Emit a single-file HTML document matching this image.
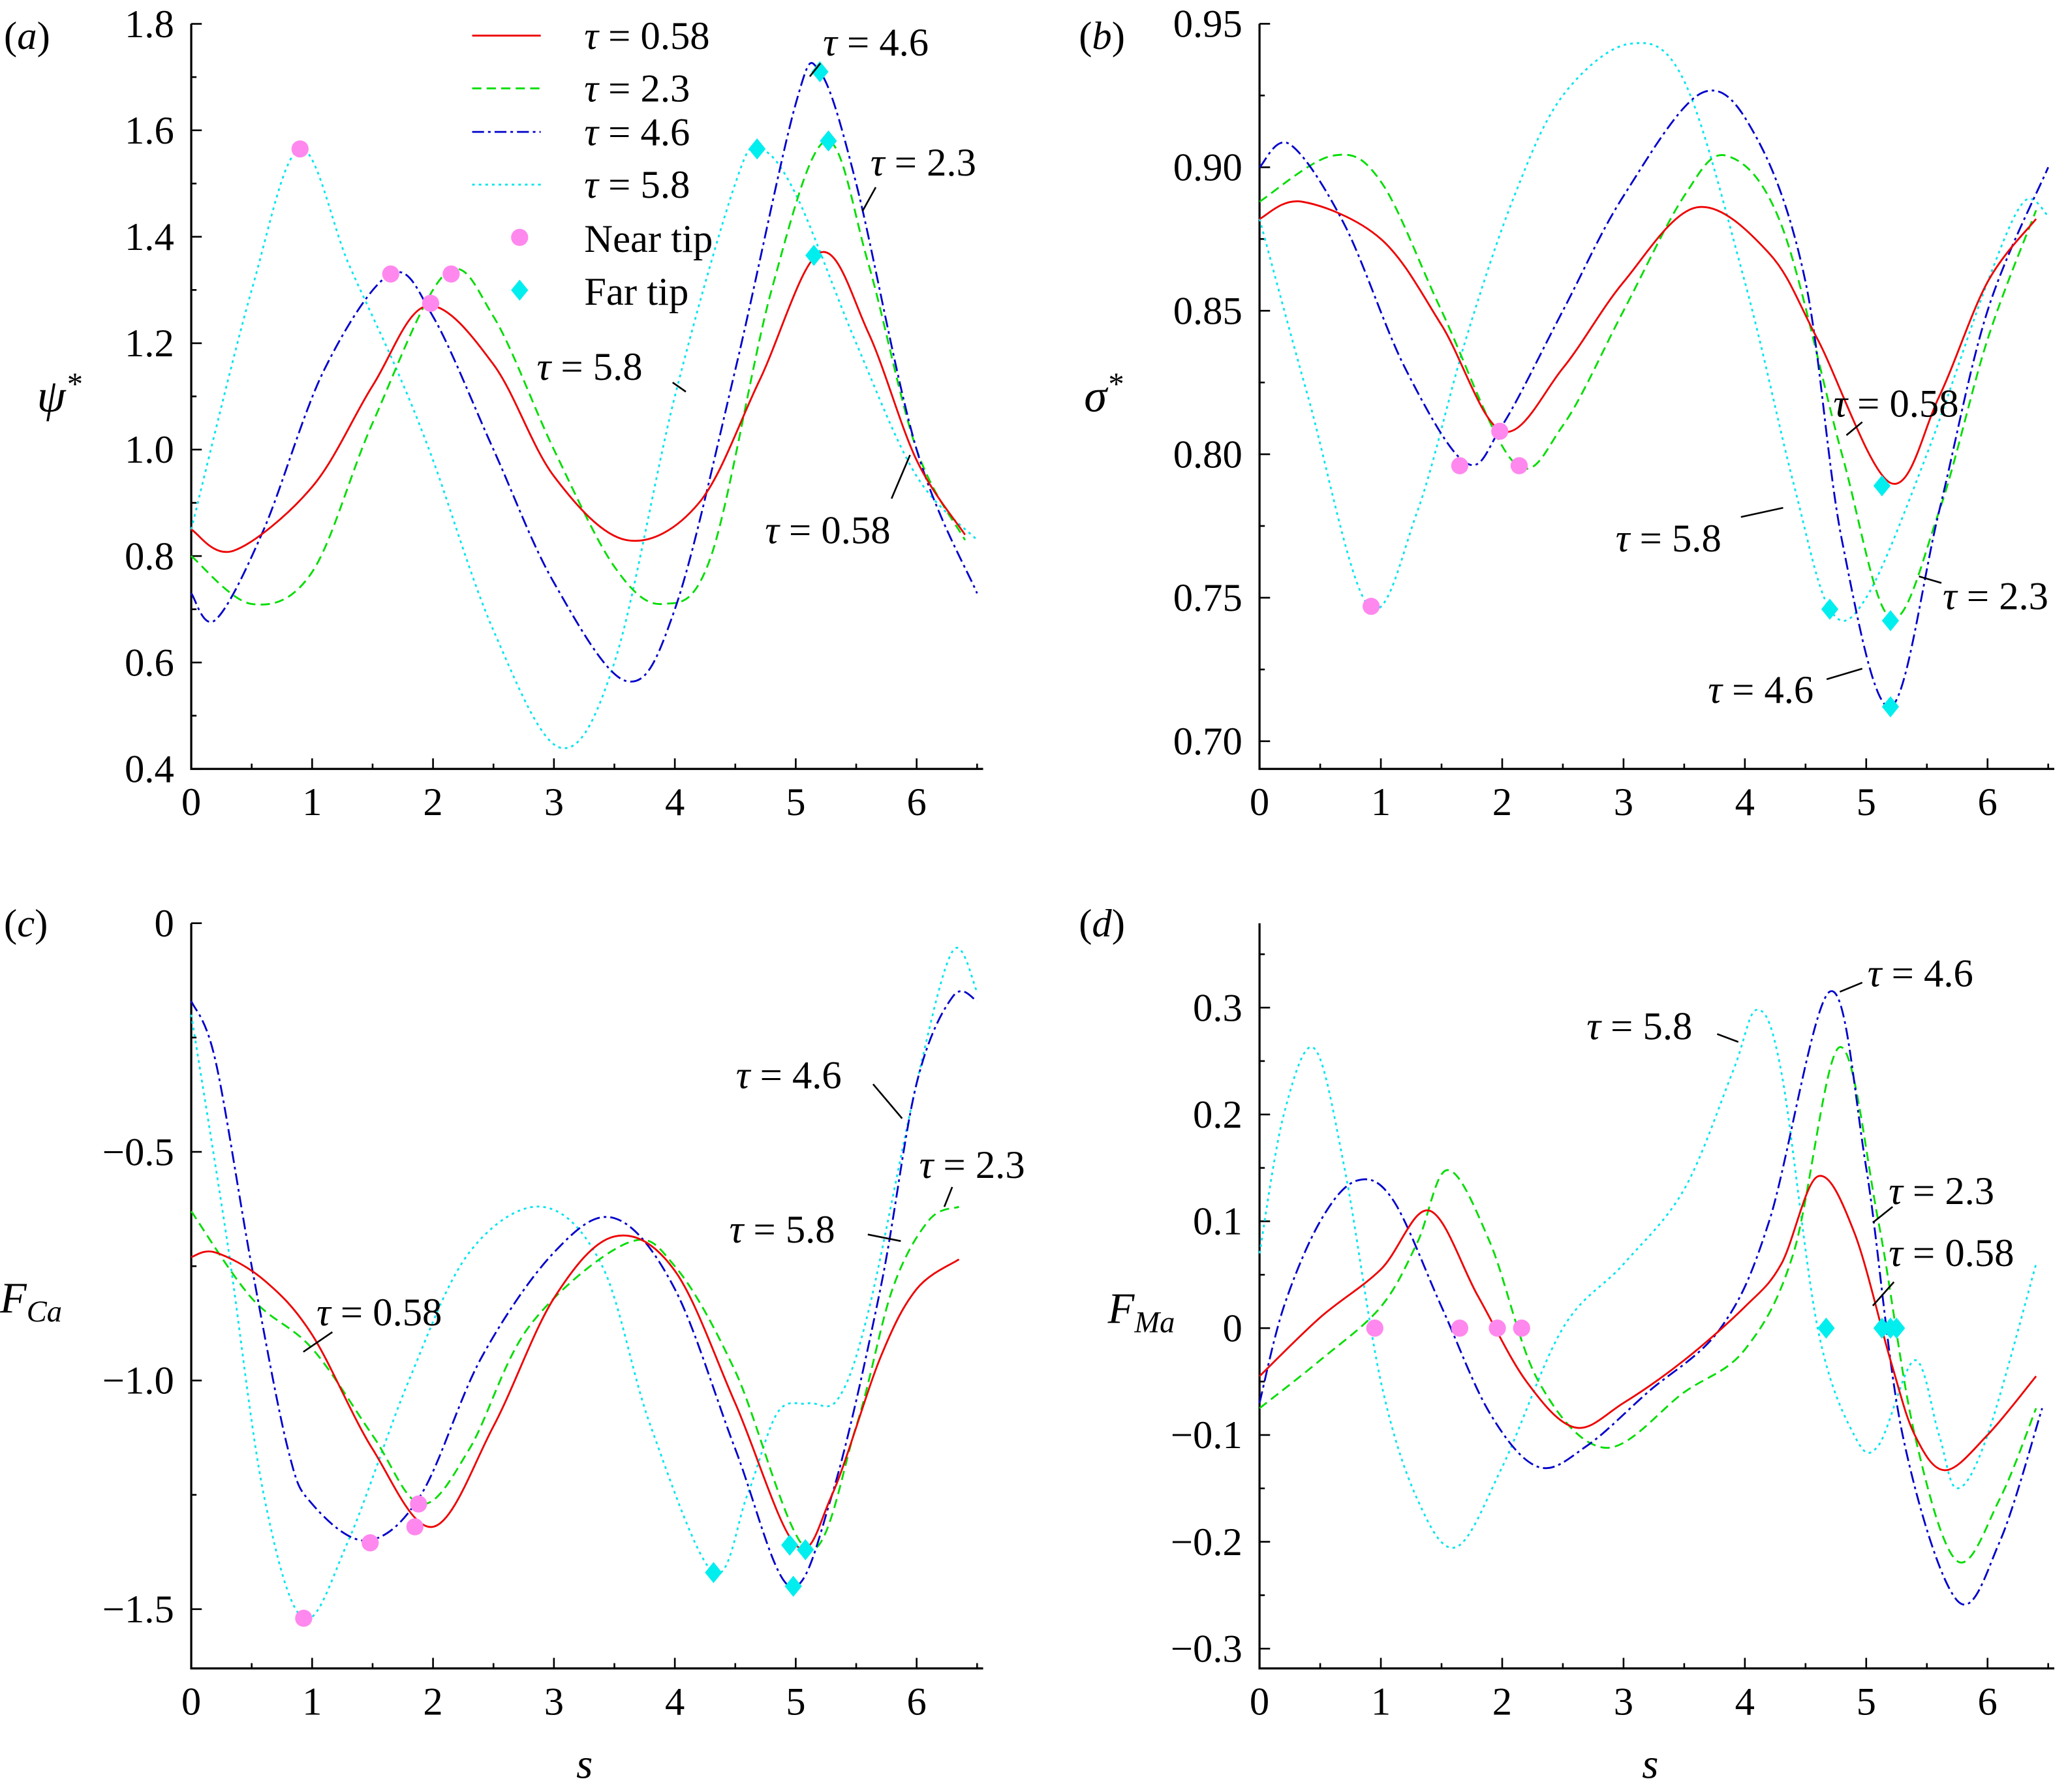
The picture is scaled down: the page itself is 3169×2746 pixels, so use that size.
<!DOCTYPE html>
<html><head><meta charset="utf-8"><style>
html,body{margin:0;padding:0;background:#fff}
svg{display:block}
text{font-family:"Liberation Serif","Times New Roman",serif;fill:#000}
</style></head><body>
<svg id="fig" width="3169" height="2746" viewBox="0 0 1568 1358.7" preserveAspectRatio="none" xmlns="http://www.w3.org/2000/svg"></svg>
<script>
// ---- data ----
const aRedS=[0,0.35,1,1.5,1.95,2.5,3,3.6,4.2,4.7,5.2,5.6,6,6.4];
const aRedV=[0.85,0.81,0.93,1.12,1.27,1.16,0.95,0.83,0.9,1.13,1.37,1.22,0.98,0.84];
const aGreenS=[0,0.5,1,1.5,2.1,2.5,3,3.5,3.9,4.3,4.8,5.25,5.6,6,6.4];
const aGreenV=[0.80,0.71,0.77,1.05,1.33,1.25,1.0,0.78,0.71,0.8,1.3,1.58,1.35,1.0,0.83];
const aBlueS=[0,0.2,0.6,1.1,1.65,2,2.5,3,3.6,4,4.5,5,5.2,5.5,6,6.5];
const aBlueV=[0.73,0.68,0.85,1.15,1.33,1.25,1.0,0.75,0.565,0.7,1.15,1.65,1.71,1.5,1.0,0.73];
const aCyanS=[0,0.5,0.9,1.3,1.7,2,2.5,3.05,3.5,4,4.5,4.7,5,5.5,6,6.5];
const aCyanV=[0.85,1.3,1.565,1.35,1.15,0.98,0.66,0.44,0.6,1.1,1.5,1.565,1.48,1.2,0.95,0.83];
const aNearS=[0.9,1.65,1.98,2.15], aNearV=[1.565,1.33,1.275,1.33];
const aFarS=[4.68,5.15,5.2,5.27], aFarV=[1.565,1.365,1.71,1.58];

const bRedS=[0,0.35,1,1.5,2,2.5,3,3.6,4.2,4.6,5.2,5.6,6,6.4];
const bRedV=[0.882,0.888,0.875,0.845,0.808,0.83,0.86,0.886,0.87,0.84,0.79,0.82,0.86,0.882];
const bGreenS=[0,0.6,1,1.5,2.1,2.5,3,3.5,3.85,4.3,4.8,5.2,5.6,6,6.4];
const bGreenV=[0.888,0.904,0.895,0.85,0.797,0.81,0.85,0.89,0.904,0.88,0.8,0.743,0.78,0.84,0.885];
const bBlueS=[0,0.25,0.7,1.2,1.7,2,2.5,3,3.65,4.1,4.5,4.8,5.2,5.6,6,6.5];
const bBlueV=[0.90,0.908,0.88,0.83,0.797,0.81,0.85,0.89,0.926,0.91,0.86,0.77,0.712,0.78,0.85,0.90];
const bCyanS=[0,0.4,0.9,1.3,1.7,2.1,2.5,3.05,3.5,4,4.4,4.7,5,5.5,6,6.3,6.5];
const bCyanV=[0.882,0.82,0.747,0.78,0.84,0.89,0.925,0.943,0.93,0.86,0.79,0.746,0.75,0.8,0.86,0.888,0.883];
const bNearS=[0.92,1.65,1.98,2.14], bNearV=[0.747,0.796,0.808,0.796];
const bFarS=[4.7,5.13,5.2,5.2], bFarV=[0.746,0.789,0.742,0.712];

const cRedS=[0,0.2,0.6,1,1.5,2,2.5,3,3.5,4,4.5,5,5.3,5.7,6,6.35];
const cRedV=[-0.73,-0.72,-0.78,-0.9,-1.15,-1.32,-1.1,-0.82,-0.685,-0.76,-1.05,-1.36,-1.25,-0.95,-0.8,-0.735];
const cGreenS=[0,0.5,1,1.5,1.9,2.3,2.8,3.6,4,4.5,5.1,5.5,5.8,6.1,6.35];
const cGreenV=[-0.63,-0.82,-0.93,-1.12,-1.27,-1.15,-0.88,-0.7,-0.75,-0.98,-1.37,-1.1,-0.8,-0.65,-0.62];
const cBlueS=[0,0.2,0.5,0.8,1,1.45,1.9,2.4,3,3.5,4,4.5,4.95,5.3,5.7,6,6.3,6.5];
const cBlueV=[-0.17,-0.3,-0.75,-1.15,-1.27,-1.35,-1.25,-0.95,-0.72,-0.645,-0.8,-1.15,-1.45,-1.25,-0.8,-0.35,-0.16,-0.17];
const cCyanS=[0,0.3,0.6,0.93,1.3,1.8,2.3,2.9,3.4,3.8,4.32,4.6,4.85,5.1,5.35,5.6,6,6.3,6.5];
const cCyanV=[-0.2,-0.7,-1.25,-1.52,-1.35,-1.0,-0.72,-0.62,-0.75,-1.1,-1.42,-1.25,-1.07,-1.05,-1.04,-0.85,-0.35,-0.06,-0.15];
const cNearS=[0.93,1.48,1.85,1.88], cNearV=[-1.52,-1.355,-1.32,-1.27];
const cFarS=[4.32,4.95,4.98,5.08], cFarV=[-1.42,-1.36,-1.45,-1.37];

const dRedS=[0,0.5,1,1.4,1.8,2.2,2.6,3,3.5,4,4.3,4.6,4.9,5.2,5.4,5.65,6,6.4];
const dRedV=[-0.045,0.01,0.055,0.11,0.03,-0.05,-0.093,-0.07,-0.03,0.02,0.06,0.142,0.09,-0.03,-0.1,-0.133,-0.1,-0.045];
const dGreenS=[0,0.5,1,1.3,1.55,1.9,2.3,2.85,3.5,4,4.4,4.78,5.1,5.4,5.75,6.1,6.4];
const dGreenV=[-0.075,-0.03,0.02,0.08,0.148,0.08,-0.05,-0.112,-0.06,-0.02,0.07,0.263,0.1,-0.1,-0.218,-0.16,-0.075];
const dBlueS=[0,0.2,0.5,0.8,1.1,1.5,1.9,2.3,2.7,3.2,3.8,4.2,4.7,5,5.3,5.75,6.1,6.45];
const dBlueV=[-0.07,0.02,0.1,0.138,0.12,0.02,-0.08,-0.13,-0.11,-0.06,0.0,0.1,0.315,0.15,-0.1,-0.255,-0.2,-0.075];
const dCyanS=[0,0.2,0.45,0.7,1,1.3,1.62,2,2.5,3,3.5,3.9,4.1,4.3,4.6,4.9,5.1,5.4,5.6,5.75,6,6.4];
const dCyanV=[0.07,0.2,0.262,0.15,-0.05,-0.16,-0.205,-0.13,0.0,0.06,0.13,0.24,0.298,0.24,0.0,-0.1,-0.11,-0.03,-0.1,-0.15,-0.1,0.06];
const dNearS=[0.95,1.65,1.96,2.16], dNearV=[0,0,0,0];
const dFarS=[4.67,5.13,5.2,5.25], dFarV=[0,0,0,0];

const xTicks=[0,1,2,3,4,5,6];
const aTicks=[0.4,0.6,0.8,1.0,1.2,1.4,1.6,1.8];
const bTicks=[0.70,0.75,0.80,0.85,0.90,0.95];
const cTicks=[-1.5,-1.0,-0.5,0];
const dTicks=[-0.3,-0.2,-0.1,0,0.1,0.2,0.3];

// ---- drawing ----
const NS="http://www.w3.org/2000/svg";
const svg=document.getElementById('fig');
function mk(tag,attrs,parent){const e=document.createElementNS(NS,tag);for(const k in attrs)e.setAttribute(k,attrs[k]);(parent||svg).appendChild(e);return e;}
const COL={red:'#ee0000',green:'#00dd00',blue:'#0000cc',cyan:'#00e5ee'};
const DASH={red:'',green:'7,4',blue:'9,3,2,3',cyan:'2,3'};
function smooth(pts){let d='M'+pts[0][0]+','+pts[0][1];
 for(let i=0;i<pts.length-1;i++){const p0=pts[Math.max(0,i-1)],p1=pts[i],p2=pts[i+1],p3=pts[Math.min(pts.length-1,i+2)];
  d+=' C'+(p1[0]+(p2[0]-p0[0])/6)+','+(p1[1]+(p2[1]-p0[1])/6)+' '+(p2[0]-(p3[0]-p1[0])/6)+','+(p2[1]-(p3[1]-p1[1])/6)+' '+p2[0]+','+p2[1];}
 return d;}
function fmt(v,dec){if(Math.abs(v)<1e-9)return '0';let s=Math.abs(v).toFixed(dec);return (v<0?'\u2212':'')+s;}

function panel(cfg){
 const g=mk('g',{});
 
 
 const X=s=>cfg.x0+s*cfg.sx;
 const Y=v=>cfg.yb-(v-cfg.vmin)*cfg.sy;
 const xr=X(6.55);
 const ax=mk('path',{d:`M${cfg.x0},${cfg.yTop} L${cfg.x0},${cfg.yBot} L${xr},${cfg.yBot}`,fill:'none',stroke:'#000','stroke-width':1.6},g);
 
 for(let k=0;k<=13;k++){const s=k*0.5,x=X(s),L=(k%2==0)?8:4;
  mk('line',{x1:x,x2:x,y1:cfg.yBot,y2:cfg.yBot-L,stroke:'#000','stroke-width':1.3},g);}
 xTicks.forEach(s=>{const t=mk('text',{x:X(s),y:cfg.yBot+35,'font-size':30,'text-anchor':'middle'},g);t.textContent=s;
  });
 const tk=cfg.ticks;const step=tk[1]-tk[0];
 for(let i=0;i<tk.length;i++){const y=Y(tk[i]);
  mk('line',{x1:cfg.x0,x2:cfg.x0+8,y1:y,y2:y,stroke:'#000','stroke-width':1.3},g);
  const m=tk[i]+step/2,ym=Y(m);if(ym>cfg.yTop-1&&ym<cfg.yBot)mk('line',{x1:cfg.x0,x2:cfg.x0+4,y1:ym,y2:ym,stroke:'#000','stroke-width':1.3},g);
  const t=mk('text',{x:cfg.x0-13,y:y+10,'font-size':30,'text-anchor':'end'},g);t.textContent=fmt(tk[i],cfg.dec);
  }
 const ylm=Y(tk[0]-step/2);if(ylm<cfg.yBot)mk('line',{x1:cfg.x0,x2:cfg.x0+4,y1:ylm,y2:ylm,stroke:'#000','stroke-width':1.3},g);
 ['cyan','green','blue','red'].forEach(c=>{const S=cfg.series[c][0],V=cfg.series[c][1];
  const pts=S.map((s,i)=>[X(s),Y(V[i])]);
  const p=mk('path',{d:smooth(pts),fill:'none',stroke:COL[c],'stroke-width':1.4,'stroke-dasharray':DASH[c]},g);
  });
 cfg.near[0].forEach((s,i)=>{const e=mk('circle',{cx:X(s),cy:Y(cfg.near[1][i]),r:6.5,fill:'#ff88ee'},g);
  });
 cfg.far[0].forEach((s,i)=>{const x=X(s),y=Y(cfg.far[1][i]);
  const e=mk('polygon',{points:`${x},${y-8} ${x+6.5},${y} ${x},${y+8} ${x-6.5},${y}`,fill:'#00eeee'},g);
  });
 return g;
}
panel({id:'a',x0:145,sx:91.67,yb:583,vmin:0.4,sy:403.5,yTop:18,yBot:583,ticks:aTicks,dec:1,
 series:{red:[aRedS,aRedV],green:[aGreenS,aGreenV],blue:[aBlueS,aBlueV],cyan:[aCyanS,aCyanV]},near:[aNearS,aNearV],far:[aFarS,aFarV]});
panel({id:'b',x0:955,sx:92,yb:562,vmin:0.70,sy:2176,yTop:18,yBot:583,ticks:bTicks,dec:2,
 series:{red:[bRedS,bRedV],green:[bGreenS,bGreenV],blue:[bBlueS,bBlueV],cyan:[bCyanS,bCyanV]},near:[bNearS,bNearV],far:[bFarS,bFarV]});
panel({id:'c',x0:145,sx:91.67,yb:700,vmin:0,sy:346.7,yTop:700,yBot:1265,ticks:cTicks,dec:1,
 series:{red:[cRedS,cRedV],green:[cGreenS,cGreenV],blue:[cBlueS,cBlueV],cyan:[cCyanS,cCyanV]},near:[cNearS,cNearV],far:[cFarS,cFarV]});
panel({id:'d',x0:955,sx:92,yb:1007,vmin:0,sy:810,yTop:700,yBot:1265,ticks:dTicks,dec:1,
 series:{red:[dRedS,dRedV],green:[dGreenS,dGreenV],blue:[dBlueS,dBlueV],cyan:[dCyanS,dCyanV]},near:[dNearS,dNearV],far:[dFarS,dFarV]});

// texts
function txt(x,y,s,size,name,italic){const t=mk('text',{x:x,y:y,'font-size':size||30});if(italic)t.setAttribute('font-style','italic');t.innerHTML=s;
 return t;}
function ann(x,y,label,lx1,ly1,lx2,ly2){txt(x,y,'<tspan font-style="italic">τ</tspan> = '+label,30,'annotation-tau-'+label);
 const l=mk('line',{x1:lx1,y1:ly1,x2:lx2,y2:ly2,stroke:'#000','stroke-width':1.3});
 }
txt(3,37,'(<tspan font-style="italic">a</tspan>)',30,'panel-label-a');
txt(818,37,'(<tspan font-style="italic">b</tspan>)',30,'panel-label-b');
txt(3,710,'(<tspan font-style="italic">c</tspan>)',30,'panel-label-c');
txt(818,710,'(<tspan font-style="italic">d</tspan>)',30,'panel-label-d');
txt(28,312,'ψ<tspan font-size="24" dy="-13">*</tspan>',35,'y-axis-title-psi',true);
txt(822,312,'σ<tspan font-size="24" dy="-13">*</tspan>',35,'y-axis-title-sigma',true);
txt(0,995,'F<tspan font-size="23" dy="7">Ca</tspan>',33,'y-axis-title-fca',true);
txt(840,1003,'F<tspan font-size="23" dy="7">Ma</tspan>',33,'y-axis-title-fma',true);
txt(437,1348,'s',32,'x-axis-title-c',true);
txt(1245,1348,'s',32,'x-axis-title-d',true);

// legend
const legY=[27,67,100,140];const legC=['red','green','blue','cyan'];const legL=['0.58','2.3','4.6','5.8'];
legC.forEach((c,i)=>{const l=mk('line',{x1:358,x2:410,y1:legY[i],y2:legY[i],stroke:COL[c],'stroke-width':1.4,'stroke-dasharray':DASH[c]});
 
 txt(443,legY[i]+10,'<tspan font-style="italic">τ</tspan> = '+legL[i],30,'legend-entry-'+legL[i]);});
const lc=mk('circle',{cx:394,cy:180,r:6.5,fill:'#ff88ee'});
txt(443,191,'Near tip',30,'legend-entry-near-tip');
const ld=mk('polygon',{points:'394,212 400.5,220 394,228 387.5,220',fill:'#00eeee'});
txt(443,231,'Far tip',30,'legend-entry-far-tip');

// annotations
ann(624,42,'4.6',614,58,622,48);
ann(660,133,'2.3',654,160,664,142);
ann(407,288,'5.8',510,290,520,297);
ann(580,412,'0.58',676,378,690,345);
ann(1390,316,'0.58',1400,330,1412,320);
ann(1225,418,'5.8',1320,392,1352,385);
ann(1473,462,'2.3',1455,437,1472,442);
ann(1295,533,'4.6',1385,515,1412,507);
ann(558,825,'4.6',662,822,684,848);
ann(697,893,'2.3',722,900,716,915);
ann(553,942,'5.8',658,936,683,941);
ann(240,1005,'0.58',230,1025,252,1010);
ann(1416,748,'4.6',1395,752,1412,745);
ann(1203,788,'5.8',1302,784,1318,790);
ann(1432,913,'2.3',1420,927,1435,915);
ann(1432,960,'0.58',1420,990,1436,972);
</script>
</body></html>
